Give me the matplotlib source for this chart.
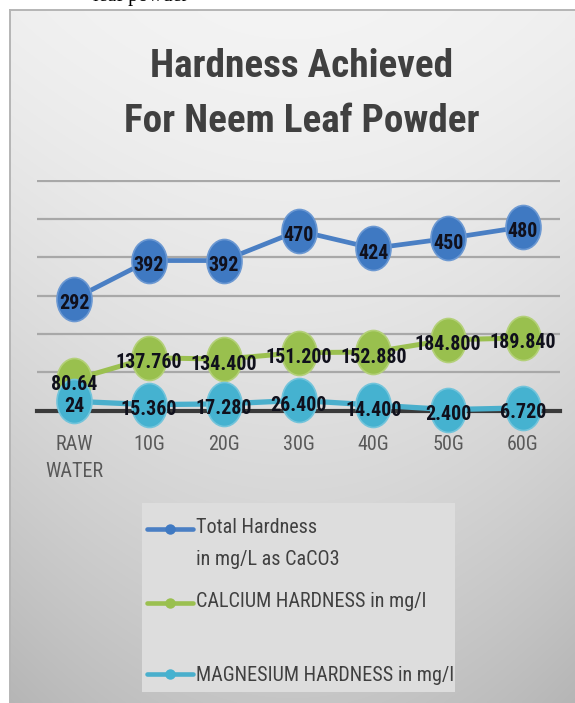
import numpy as np
import matplotlib
matplotlib.use("Agg")
import matplotlib.pyplot as plt
from matplotlib import font_manager as fm
from matplotlib.path import Path
from matplotlib.transforms import Affine2D, offset_copy
from matplotlib.markers import MarkerStyle
from matplotlib.lines import Line2D
from matplotlib.patches import Rectangle
from matplotlib.legend_handler import HandlerLine2D

# ---------------- data ----------------
categories = ["RAW\nWATER", "10G", "20G", "30G", "40G", "50G", "60G"]
total_hardness = [292, 392, 392, 470, 424, 450, 480]
calcium_hardness = [80.64, 137.76, 134.4, 151.2, 152.88, 184.8, 189.84]
magnesium_hardness = [24, 15.36, 17.28, 26.4, 14.4, 2.4, 6.72]
total_labels = ["292", "392", "392", "470", "424", "450", "480"]
calcium_labels = ["80.64", "137.760", "134.400", "151.200", "152.880", "184.800", "189.840"]
magnesium_labels = ["24", "15.360", "17.280", "26.400", "14.400", "2.400", "6.720"]
series_names = ["Total Hardness\nin mg/L as CaCO3",
                "CALCIUM HARDNESS in mg/l\n",
                "MAGNESIUM HARDNESS in mg/l"]
y_ticks = [0, 100, 200, 300, 400, 500, 600]
title_text = "Hardness Achieved\nFor Neem Leaf Powder"
doc_fragment = "leaf powder"

# ---------------- font selection (narrow sans with a bold face) ----------------
entries = fm.fontManager.ttflist
WMAP = {"ultralight": 200, "light": 300, "normal": 400, "regular": 400, "book": 400,
        "roman": 400, "medium": 500, "semibold": 600, "demibold": 600, "demi": 600,
        "bold": 700, "heavy": 800, "extra bold": 800, "black": 900}
COND = ("condensed", "semi-condensed", "extra-condensed", "ultra-condensed")


def wnum(w):
    try:
        return int(w)
    except (TypeError, ValueError):
        return WMAP.get(str(w).lower(), 400)


def choose_fonts():
    cands = ["Liberation Sans Narrow", "Roboto Condensed", "Open Sans Condensed",
             "Noto Sans Condensed", "DejaVu Sans Condensed", "Arial Narrow"]
    extra = sorted({f.name for f in entries
                    if ("Narrow" in f.name or "Condensed" in f.name)
                    and "Serif" not in f.name and "Mono" not in f.name})
    for c in cands + extra:
        regs = [f for f in entries if f.name == c and f.style == "normal"
                and 350 <= wnum(f.weight) <= 500]
        if not regs:
            continue
        bolds = [f for f in entries if f.style == "normal" and (
            (f.name == c and wnum(f.weight) >= 600) or
            (f.name.startswith(c) and "Bold" in f.name))]
        if bolds:
            b = min(bolds, key=lambda f: abs(wnum(f.weight) - 700))
            return (dict(family=c, fontstretch="normal"),
                    dict(family=b.name, fontweight=max(wnum(b.weight), 600),
                         fontstretch="normal"))
    for fam in ["DejaVu Sans", "Noto Sans", "Open Sans", "Roboto", "Lato", "Inter"]:
        cs = [f for f in entries if f.name == fam and str(f.stretch) in COND]
        if any(wnum(f.weight) >= 600 for f in cs) and any(wnum(f.weight) < 600 for f in cs):
            return (dict(family=fam, fontstretch="condensed"),
                    dict(family=fam, fontweight="bold", fontstretch="condensed"))
    fam = "Liberation Sans"
    return (dict(family=fam, fontstretch="normal"),
            dict(family=fam, fontweight="bold", fontstretch="normal"))


REG, BOLD = choose_fonts()

W, H = 575, 703
fig = plt.figure(figsize=(W / 100, H / 100), dpi=100, facecolor="white")
R = fig.canvas.get_renderer()


def fx(px):
    return px / W


def fy(py):
    return 1 - py / H


def measure(s, size, ls=1.2, **kw):
    t = fig.text(0, 0, s, fontsize=size, linespacing=ls, **kw)
    bb = t.get_window_extent(R)
    t.remove()
    return bb.width, bb.height


def fit_size(s, target_px, **kw):
    w, _ = measure(s, 20, **kw)
    return 20 * target_px / w


def ls_for(pitch_px, size, **kw):
    _, h1 = measure("A", size, 1.0, **kw)
    _, h2 = measure("A\nA", size, 1.0, **kw)
    return pitch_px / (h2 - h1)


# sizes calibrated to the reference text widths
title_fs = fit_size("Hardness Achieved", 302, **BOLD)
label_fs = fit_size("137.760", 66.5, **BOLD)
tick_fs = fit_size("RAW", 37.5, **REG)
leg_fs = fit_size("MAGNESIUM HARDNESS in mg/l", 257, **REG)
title_ls = ls_for(61, title_fs, **BOLD)
tick_ls = ls_for(28.5, tick_fs, **REG)
leg_ls = ls_for(36, leg_fs, **REG)
_, leg_line_h = measure("Total Hardness", leg_fs, **REG)

# ---------------- background ----------------
bg = fig.add_axes([fx(10), 0, 1 - fx(10), fy(10)], zorder=-10)
rows = np.linspace(0, 1, 400)[:, None]
cols = np.linspace(0, 1, 400)[None, :]
v = 0.955 - 0.18 * rows ** 1.4 - 0.045 * (2 * cols - 1) ** 2 * (0.4 + rows)
bg.imshow(np.dstack([v, v, v]), aspect="auto", extent=[0, 1, 0, 1],
          interpolation="bilinear")
bg.set_axis_off()
fig.add_artist(Line2D([fx(10), fx(10)], [0, fy(10)], color="#b5b5b5", lw=1.4, zorder=-9))
fig.add_artist(Line2D([fx(10), 1], [fy(10), fy(10)], color="#b5b5b5", lw=1.4, zorder=-9))

# fragment of the surrounding document text, clipped at the top edge as in the source
fig.text(fx(93), fy(1.5), doc_fragment, family=["Liberation Serif", "DejaVu Serif"],
         fontsize=14.4, va="baseline", ha="left", color="black")

# legend box
fig.add_artist(Rectangle((fx(142), fy(692)), fx(455) - fx(142), fy(503) - fy(692),
                         transform=fig.transFigure, facecolor="#dddddd",
                         edgecolor="none", zorder=-5))

# ---------------- main axes ----------------
ymax = 602
px_per_unit = (410.5 - 181.0) / 600
top_px = 410.5 - ymax * px_per_unit
ax = fig.add_axes([fx(36.6), fy(410.5), (560.4 - 36.6) / W, (410.5 - top_px) / H])
ax.set_facecolor("none")
x = np.arange(len(categories))
ax.set_xlim(-0.5, len(categories) - 0.5)
ax.set_ylim(0, ymax)
ax.set_yticks(y_ticks)
ax.yaxis.grid(True, color="#a8a8a8", lw=1.6)
ax.set_axisbelow(True)
ax.tick_params(axis="y", length=0, labelleft=False)
for s in ["top", "left", "right"]:
    ax.spines[s].set_visible(False)
ax.spines["bottom"].set_color("#3a3a3a")
ax.spines["bottom"].set_linewidth(3.0)

ax.set_xticks(x)
ax.set_xticklabels(categories, fontsize=tick_fs, color="#595959",
                   linespacing=tick_ls, **REG)
ax.tick_params(axis="x", length=0, pad=18)

ell = Path.unit_circle().transformed(Affine2D().scale(35 / 44, 1.0))
mk = MarkerStyle(ell)
ms = 44 * 72 / 100

series = [
    (total_hardness, total_labels, "#4a7fc4", "#3f79c2", "#6b98d2", 3.4, 3),
    (calcium_hardness, calcium_labels, "#9bc050", "#99c04e", "#b3d078", 3.6, 4),
    (magnesium_hardness, magnesium_labels, "#4aafcc", "#45b2d0", "#72c4db", 3.8, 5),
]
lab_trans = offset_copy(ax.transData, fig=fig, x=0, y=-2.2, units="points")
for vals, labs, lc, fc, ec, lw, z in series:
    ax.plot(x, vals, color=lc, lw=lw, marker=mk, ms=ms, mfc=fc, mec=ec, mew=1.2,
            zorder=z, clip_on=False, solid_capstyle="round")
    for xi, val, s in zip(x, vals, labs):
        ax.text(xi, val, s, transform=lab_trans, ha="center", va="center_baseline",
                fontsize=label_fs, color="#10101c", zorder=20, clip_on=False, **BOLD)

# ---------------- title ----------------
fig.text(fx(302), fy(94), title_text, ha="center", va="center", fontsize=title_fs,
         color="#404040", linespacing=title_ls, **BOLD)

# ---------------- legend ----------------
class ShiftedHandler(HandlerLine2D):
    def __init__(self, dy, **kw):
        super().__init__(**kw)
        self.dy = dy

    def create_artists(self, legend, orig_handle, xdescent, ydescent, width,
                       height, fontsize, trans):
        arts = super().create_artists(legend, orig_handle, xdescent, ydescent,
                                      width, height, fontsize, trans)
        for a in arts:
            a.set_ydata(np.asarray(a.get_ydata(), float) + self.dy)
        return arts


handles = []
for vals, labs, lc, fc, ec, lw, z in series:
    handles.append(Line2D([], [], color=lc, lw=3.3, marker="o", ms=6.5, mfc=fc,
                          mec=fc, solid_capstyle="round"))
leg_fs_px = leg_fs * 100 / 72
gap_px = max(42 - leg_line_h, 2)
half_pitch_pt = 15 * 72 / 100
leg_prop = {"family": REG["family"], "size": leg_fs, "stretch": REG["fontstretch"]}
leg_top = 525 + 0.1 * leg_fs_px - leg_line_h / 2
leg = fig.legend(handles, series_names, loc="upper left",
                 bbox_to_anchor=(fx(146.7), fy(leg_top)), bbox_transform=fig.transFigure,
                 frameon=False, prop=leg_prop,
                 labelcolor="#404040", handlelength=33.5 / leg_fs,
                 handletextpad=2.0 / leg_fs, labelspacing=gap_px * 0.72 / leg_fs,
                 borderpad=0, borderaxespad=0, numpoints=1,
                 handler_map={handles[0]: ShiftedHandler(half_pitch_pt),
                              handles[1]: ShiftedHandler(half_pitch_pt)})
for t in leg.get_texts():
    t.set_linespacing(leg_ls)

fig.savefig("out.png", dpi=100, facecolor="white")
